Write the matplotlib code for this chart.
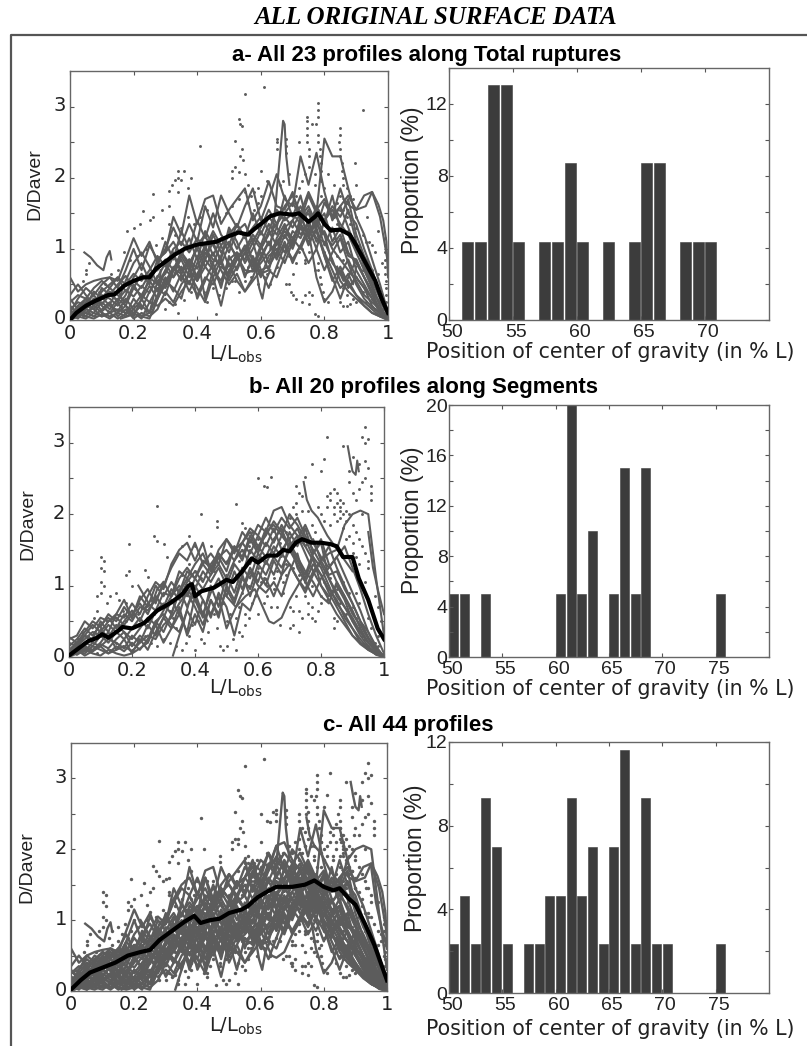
"""Surface slip profiles and centre-of-gravity histograms, three panels."""
import numpy as np
import matplotlib

matplotlib.use("Agg")
import matplotlib.pyplot as plt  # noqa: E402
from matplotlib.lines import Line2D  # noqa: E402
from matplotlib.transforms import ScaledTranslation  # noqa: E402

W, H = 807, 1046
GREY = "#5c5c5c"
SANS = "Liberation Sans"
WIDE = "DejaVu Sans"

plt.rcParams["mathtext.fontset"] = "custom"
plt.rcParams["mathtext.rm"] = WIDE
plt.rcParams["mathtext.default"] = "regular"

# common L/Lobs stations for the whole-length profiles (0 to 1, every 0.025)
L = [0, .025, .05, .075, .1, .125, .15, .175, .2, .225, .25, .275, .3, .325, .35, .375, .4, .425, .45, .475,
     .5, .525, .55, .575, .6, .625, .65, .675, .7, .725, .75, .775, .8, .825, .85, .875, .9, .925, .95, .975, 1]

a01 = [.6, .4, .5, .55, .58, .6, .55, .85, 1.15, .9, 1.1, .8, 1.0, 1.3, 1.05, 1.35, 1.1, 1.6, 1.3, 1.75, 1.5, 1.3, 1.6, 1.85, 1.4, 1.7, 2.05, 1.7, 1.6, 2.3, 1.9, 2.35, 1.8, 1.4, 1.6, 1.75, 1.55, 1.75, 1.8, 1.45, .8]
a02 = [.1, .3, .45, .35, .5, .6, .45, .7, 1.0, .7, 1.05, .85, .95, 1.45, 1.2, 1.75, 1.35, 1.7, 1.75, 1.35, 1.55, 1.7, 1.85, 1.4, 1.6, 1.95, 1.6, 1.55, 1.8, 1.4, 1.75, 1.5, 2.55, 2.3, 2.3, 1.85, 1.45, 1.2, .85, .5, .1]
a03 = [0, .2, .3, .25, .35, .3, .2, .35, .6, .8, .55, .75, 1.1, .85, 1.25, 1.0, 1.4, 1.15, 1.5, 1.2, 1.05, 1.35, 1.15, 1.5, 1.2, 1.45, 1.3, 1.75, 1.45, 1.75, 1.3, 1.6, 1.35, 1.75, 1.25, 1.55, 1.1, .75, .5, .2, 0]
a04 = [0, .05, .15, .1, .25, .15, .3, .2, .45, .35, .55, .4, .7, .6, .9, .7, 1.05, .85, 1.2, .95, 1.1, .85, 1.0, 1.2, 1.05, 1.35, 1.2, 1.45, 1.3, 1.5, 1.15, 1.4, 1.05, 1.3, .95, 1.1, .7, .5, .3, .1, 0]
a05 = [.05, .1, .05, .2, .1, .05, .1, .05, .1, .2, .1, .55, .65, .9, .7, .85, .6, .95, .8, 1.05, .75, .9, .65, .7, 1.0, 1.25, 1.05, 1.3, 1.15, 1.35, 1.05, 1.3, .9, .55, .75, .5, .35, .25, .15, .05, 0]
a06 = [0, .1, .2, .15, .05, .1, .02, .08, .15, .05, .02, .3, .5, .75, .55, .8, .3, .55, .8, .45, .9, .7, .95, .7, .85, 1.1, .9, 1.2, 1.0, 1.3, 1.1, 1.25, .95, .7, .45, .55, .35, .2, .1, .05, .02]
a07 = [.15, .25, .2, .4, .3, .45, .35, .25, .5, .3, .6, .5, .45, .7, .85, .6, .9, .3, .7, .55, .85, .95, .6, .9, .65, .7, 1.1, .95, 1.25, 1.15, 1.4, 1.1, 1.25, 1.0, .85, .7, .55, .35, .25, .15, .05]
a08 = [.05, .2, .1, .05, .15, .25, .05, .15, .02, .1, .05, .15, .4, .25, .5, .65, .45, .25, .6, .2, .7, .85, 1.0, .75, 1.05, .8, 1.15, 1.35, 1.05, 1.45, 1.2, 1.35, 1.5, 1.1, 1.3, .95, .8, .6, .35, .15, .02]
a09 = [.25, .35, .3, .45, .55, .45, .6, .5, .65, .55, .7, .9, .75, 1.0, 1.1, .95, 1.15, 1.0, 1.25, 1.05, 1.2, 1.35, 1.15, 1.3, 1.45, 1.25, 1.55, 1.4, 1.5, 1.35, 1.55, 1.3, 1.65, 1.45, 1.85, 1.5, 1.35, 1.0, .7, .35, .05]
a10 = [0, .08, .18, .3, .22, .35, .28, .42, .33, .48, .38, .62, .55, .72, .65, .85, .72, 1.0, .85, .78, 1.05, .9, .7, .68, .8, .95, 1.1, 1.25, 1.1, 1.35, 1.2, 1.45, 1.2, 1.05, 1.2, .9, .85, .6, .4, .25, .08]
a11 = [.02, .05, .02, .1, .05, .1, .15, .1, .2, .35, .25, .2, .3, .2, .4, .55, .35, .6, .5, .75, .65, .95, .85, 1.1, .7, .75, .95, 1.3, 1.4, 1.2, 1.35, 1.15, 1.1, .85, .55, .4, .3, .2, .1, .05, 0]
a12 = [.3, .15, .3, .2, .4, .5, .6, .4, .55, .45, .65, .7, .85, .7, .95, .8, 1.0, .75, .6, .85, .55, .75, .95, 1.15, 1.0, 1.2, 1.35, 1.5, 1.65, 1.45, 1.6, 1.35, 1.2, .8, .65, .85, .6, .45, .3, .15, .03]
a13 = [.1, .15, .05, .02, .08, .02, .1, .2, .1, .02, .25, .45, .35, .7, .95, .75, 1.05, 1.2, .9, 1.15, .95, 1.25, 1.35, 1.1, 1.3, 1.55, 1.35, 1.6, 1.75, 1.5, 1.8, 1.55, 1.7, 1.45, 1.6, 1.3, 1.0, .8, .55, .3, .1]
a14 = [.02, .12, .25, .15, .3, .4, .25, .08, .3, .15, .4, .6, .8, .6, .75, .5, .8, 1.05, .7, .9, 1.25, 1.0, 1.2, .8, .95, .7, .6, .9, 1.15, 1.0, 1.25, .6, .25, .4, .7, .45, .6, .45, .2, .08, 0]
a15 = [.2, .1, .25, .35, .2, .1, .25, .55, .8, .95, .75, .5, .7, .95, .65, .4, .65, .85, 1.1, .8, .6, .85, 1.05, .85, .6, .9, 1.0, .8, 1.1, 1.4, 1.5, 1.25, .9, .6, .3, .6, .85, .6, .4, .12, .03]
a16 = [.02, .05, .1, .2, .32, .2, .12, .3, .15, .28, .48, .3, .55, .45, .3, .7, .55, .85, .7, .5, .8, .55, .4, .55, .7, .45, .75, 1.05, .85, 1.05, 1.3, 1.0, 1.4, 1.55, 1.35, 1.2, .95, .7, .45, .2, 0]
a17 = [.35, .5, .35, .2, .45, .35, .5, .62, .45, .65, .5, .85, .95, 1.1, .9, 1.15, .85, 1.25, 1.05, .85, 1.3, 1.1, .8, 1.0, 1.25, 1.05, 1.3, 1.15, 1.4, 1.6, 1.35, 1.55, 1.4, 1.6, 1.45, 1.7, 1.2, .9, .7, .35, .1]
a18 = [.08, .02, .15, .3, .12, .22, .42, .2, .05, .3, .1, .35, .6, .4, .65, .85, .55, .75, .95, .7, .5, .65, .4, .6, .9, 1.1, .85, 1.1, .8, 1.05, .8, 1.0, .7, .95, 1.15, .8, .5, .3, .18, .1, .02]

b01 = [.25, .3, .5, .4, .55, .5, .6, .55, .75, .6, .85, 1.05, .95, 1.3, 1.5, 1.6, 1.35, 1.6, 1.2, 1.5, 1.65, 1.45, 1.75, 1.6, 1.85, 1.75, 2.05, 2.1, 1.85, 1.7, 1.55, 1.35, 1.15, .9, .7, .5, .3, .2, .12, .05, 0]
b02 = [.15, .25, .4, .3, .45, .55, .4, .6, .5, .7, .65, .8, 1.0, 1.25, 1.45, 1.35, 1.6, 1.3, 1.45, 1.3, 1.65, 1.5, 1.6, 1.8, 1.7, 1.95, 1.75, 1.95, 1.8, 1.95, 1.7, 1.5, 1.3, 1.1, .9, .7, .55, .35, .2, .1, 0]
b03 = [.05, .15, .25, .35, .3, .45, .35, .5, .65, .5, .75, .65, .9, .85, 1.1, 1.25, 1.1, 1.3, 1.15, 1.4, 1.2, 1.55, 1.4, 1.7, 1.5, 1.8, 1.6, 1.85, 1.65, 1.8, 1.55, 1.65, 1.35, 1.15, 1.2, .95, .75, .5, .35, .15, 0]
b04 = [0, .1, .2, .15, .3, .2, .35, .25, .4, .55, .4, .65, .75, .6, .9, 1.1, .95, 1.2, 1.05, 1.25, 1.0, 1.3, 1.15, 1.5, 1.35, 1.6, 1.45, 1.7, 1.55, 1.35, 1.15, 1.45, 1.6, 1.1, .85, .7, .5, .35, .2, .08, 0]
b05 = [.02, .08, .05, .15, .1, .05, .1, .15, .08, .2, .3, .25, .45, .55, .75, .9, .7, .45, .8, .6, .95, .75, 1.1, .95, 1.3, 1.15, 1.4, 1.25, 1.5, 1.3, 1.1, 1.4, 1.0, .85, 1.0, .8, .5, .3, .15, .05, 0]
b06 = [0, .05, .15, .1, .2, .35, .1, .25, .05, .25, .1, .35, .55, .4, .7, .3, .6, .35, .8, .55, 1.0, .8, 1.15, .85, 1.2, 1.0, 1.35, 1.15, 1.6, 1.4, 1.2, 1.05, .85, .75, 1.05, .85, .6, .45, .25, .1, .02]
b07 = [.1, .2, .3, .45, .35, .5, .55, .45, .6, .75, .6, .85, .7, .95, .8, 1.05, 1.2, 1.05, 1.3, 1.45, 1.3, 1.55, 1.35, 1.65, 1.45, 1.75, 1.85, 1.7, 2.0, 1.85, 1.65, 1.4, 1.25, 1.0, .75, .6, .4, .25, .12, .03, 0]
b08 = [.02, .12, .08, .2, .15, .25, .2, .12, .3, .2, .45, .3, .55, .8, .6, .95, .8, .55, 1.0, .7, 1.15, .9, 1.25, 1.1, 1.45, 1.3, 1.55, 1.4, 1.75, 1.55, 1.8, 1.45, 1.65, 1.3, 1.05, .85, .65, .4, .2, .08, 0]
b09 = [.2, .15, .3, .25, .5, .35, .6, .8, .55, .85, .7, 1.0, .85, 1.05, .9, 1.2, 1.1, 1.35, 1.25, 1.45, 1.3, 1.5, 1.6, 1.45, 1.7, 1.55, 1.8, 1.5, 1.65, 1.25, 1.05, 1.3, 1.15, .95, .8, .55, .4, .2, .1, .04, 0]
b10 = [.05, .1, .02, .08, .15, .05, .15, .08, .2, .1, .25, .5, .35, .6, .95, .7, 1.0, .8, .55, .9, .7, .3, .75, .65, .95, 1.1, .85, 1.15, 1.3, 1.1, .95, 1.2, 1.35, 1.45, 1.5, 1.85, 2.0, 2.05, 2.0, 1.1, .3]
b11 = [.28, .2, .35, .5, .42, .6, .5, .7, .55, .8, .95, .75, 1.05, .85, 1.2, 1.1, 1.3, 1.45, 1.2, 1.4, 1.5, 1.35, 1.6, 1.75, 1.55, 1.7, 1.9, 1.75, 1.55, 1.7, 1.45, 1.2, 1.0, .8, .6, .45, .3, .18, .1, .04, 0]
b12 = [.1, .03, .1, .05, .02, .1, .05, .02, .05, .12, .2, .45, .2, .4, .6, .35, .85, .6, .9, 1.1, .85, 1.2, .95, 1.25, 1.05, 1.35, 1.15, 1.45, 1.3, 1.1, .9, 1.15, 1.35, 1.55, 1.25, 1.0, .75, .5, .28, .1, 0]
b13 = [.08, .18, .3, .2, .38, .28, .45, .35, .25, .4, .55, .45, .65, .85, 1.0, .85, 1.1, .95, 1.15, 1.3, 1.1, 1.35, 1.5, 1.3, 1.55, 1.4, 1.65, 1.8, 1.5, 1.65, 1.85, 1.6, 1.4, 1.25, 1.4, 1.15, .9, .65, .35, .12, 0]
b14 = [.02, .05, .12, .08, .18, .12, .25, .35, .15, .3, .2, .5, .6, .45, .35, .65, .45, .8, .6, .85, .4, .65, .9, 1.2, 1.0, .9, 1.05, .85, 1.2, 1.45, 1.05, .85, 1.1, 1.25, 1.4, 1.55, 1.25, .95, .6, .3, .05]

# short stretches that stand out from the bundle
a_seg1_x = [.045, .065, .085, .105, .115, .125, .13]
a_seg1_y = [.95, .88, .77, .7, .88, .97, .85]
a_seg2_x = [.63, .645, .66, .67, .675, .68, .69]
a_seg2_y = [1.0, 1.55, 2.3, 2.8, 2.75, 2.3, 1.9]
a_seg3_x = [.86, .88, .9, .93, .95, .97, .985, .995, 1.0]
a_seg3_y = [1.7, 1.6, 1.55, 1.6, 1.8, 1.62, 1.4, 1.1, .6]
a_seg4_x = [.58, .595, .605, .615, .63]
a_seg4_y = [.85, .45, .3, .55, .7]
a_seg5_x = [.84, .86, .875, .89, .9]
a_seg5_y = [.75, .55, .65, .5, .75]
a_seg6_x = [.16, .18, .2, .23, .26, .28, .285]
a_seg6_y = [.02, .05, .08, .06, .12, .35, .7]
b_seg1_x = [.885, .893, .9, .91, .915, .92]
b_seg1_y = [2.95, 2.75, 2.6, 2.55, 2.75, 2.6]
b_seg2_x = [.33, .35, .365, .38, .4, .42, .44]
b_seg2_y = [.02, .3, .5, .75, .9, .65, .5]
b_seg3_x = [.5, .53, .56, .59, .62, .635, .65, .675, .7, .72, .74]
b_seg3_y = [.85, .7, .85, .95, .65, .5, .47, .55, .8, .95, 1.1]
b_seg4_x = [.745, .755, .77, .79, .82, .86, .9]
b_seg4_y = [2.45, 2.2, 2.05, 1.95, 1.7, 1.45, 1.2]
b_seg5_x = [.95, .965, .98, 1.0]
b_seg5_y = [1.75, 1.25, .95, .6]
b_seg6_x = [.22, .24, .26, .28, .3]
b_seg6_y = [1.0, .85, .7, .95, 1.05]

# single samples
dots_a = [(.61, 3.28), (.55, 3.17), (.92, 2.95), (.53, 2.83), (.54, 2.72), (.535, 2.75), (.41, 2.44), (.52, 2.52), (.54, 2.4), (.535, 2.3),
          (.545, 2.25), (.51, 2.1), (.52, 2.15), (.53, 2.08), (.51, 2.0), (.55, 2.05), (.56, 1.9), (.34, 2.1), (.36, 2.1), (.34, 2.0),
          (.33, 1.97), (.35, 1.97), (.38, 2.0), (.37, 1.85), (.32, 1.9), (.31, 1.82), (.34, 1.8), (.26, 1.77), (.23, 1.53), (.31, 1.6),
          (.29, 1.55), (.26, 1.45), (.25, 1.4), (.22, 1.35), (.18, 1.25), (.2, 1.3), (.06, .8), (.05, .7), (.05, .65), (.04, .55),
          (.745, 2.85), (.745, 2.8), (.745, 2.7), (.745, 2.6), (.745, 2.5), (.75, 2.4), (.75, 2.3), (.78, 3.05), (.78, 2.95), (.78, 2.85),
          (.775, 2.75), (.78, 2.6), (.78, 2.5), (.785, 2.4), (.785, 2.3), (.79, 2.2), (.79, 2.1), (.76, 2.75), (.85, 2.7), (.85, 2.6),
          (.845, 2.5), (.85, 2.4), (.85, 2.3), (.855, 2.2), (.855, 2.1), (.86, 2.0), (.65, 2.55), (.65, 2.5), (.65, 2.4), (.68, 2.55),
          (.68, 2.45), (.68, 2.35), (.72, 2.5), (.895, 2.2), (.6, 2.1), (.59, 1.85), (.58, 1.8), (.62, 1.95), (.77, 1.9), (.81, 2.05),
          (.68, .5), (.69, .5), (.695, .4), (.7, .35), (.71, .3), (.74, .35), (.75, .4), (.76, .35), (.73, .25), (.75, .22),
          (.77, .08), (.78, .05), (.7, .65), (.72, .95), (.74, .85), (.74, .8), (.6, .65), (.61, .6), (.62, .65), (.85, .25),
          (.86, .2), (.87, .2), (.88, .22), (.89, .3), (.9, .25), (.87, .35), (.92, .4), (.99, 1.15), (.99, 1.05), (.99, .95),
          (.99, .85), (.99, .75), (.99, .65), (.995, .55), (.995, .45), (.995, .35), (.995, .25), (.78, .8), (.78, .7), (.785, .6),
          (.79, .5), (.795, .4), (.8, .3), (.81, .25), (.33, .23), (.14, .4), (.19, .1), (.2, .2), (.43, .25), (.46, .08),
          (.5, .7), (.52, .55), (.45, .45), (.48, .6), (.35, .6), (.38, .4), (.41, .7), (.25, .25), (.28, .4), (.56, .75),
          (.93, .25), (.95, .3), (.96, .15), (.94, 1.1), (.96, .95), (.83, 1.9), (.87, 1.85), (.89, 1.7), (.9, 1.9), (.66, 1.9)]
dots_a_more = [(.87, 1.65), (.86, 1.55), (.87, 1.45), (.88, 1.35), (.875, 1.25), (.88, 1.15), (.86, 1.05), (.87, .95), (.86, .85), (.85, 1.75),
               (.84, 1.65), (.85, 1.55), (.83, 1.45), (.84, 1.35), (.82, 1.25), (.83, 1.15), (.8, 1.85), (.79, 1.75), (.8, 1.65), (.78, 1.55),
               (.79, 1.95), (.77, 2.05), (.75, 2.15), (.74, 2.05), (.73, 1.95), (.72, 1.85), (.71, 1.75), (.7, 1.65), (.69, 2.05), (.67, 1.95),
               (.57, 1.75), (.56, 1.65), (.58, 1.55), (.59, 1.65), (.6, 1.75), (.55, 1.8), (.53, 1.7), (.51, 1.6), (.49, 1.5), (.47, 1.45),
               (.43, 1.55), (.41, 1.45), (.39, 1.35), (.37, 1.45), (.35, 1.3), (.33, 1.2), (.31, 1.35), (.29, 1.15), (.27, 1.05), (.24, 1.0),
               (.21, .9), (.19, .85), (.17, .95), (.15, .7), (.13, .65), (.11, .5), (.09, .4), (.07, .35), (.05, .3), (.03, .15),
               (.02, .05), (.04, .05), (.06, .1), (.08, .05), (.1, .1), (.12, .12), (.14, .15), (.16, .2), (.18, .15), (.22, .22),
               (.24, .12), (.3, .15), (.31, .25), (.34, .1), (.36, .28), (.4, .35), (.42, .4), (.44, .5), (.47, .35), (.49, .45),
               (.51, .55), (.53, .4), (.55, .55), (.57, .6), (.59, .5), (.63, .5), (.65, .75), (.67, .85), (.69, .9), (.71, .8),
               (.73, 1.0), (.75, .95), (.77, .7), (.8, .95), (.82, .85), (.84, .9), (.86, .45), (.88, .5), (.9, .6), (.92, .7),
               (.94, .6), (.96, .5), (.97, .4), (.98, .25), (.985, .15), (.98, .8), (.97, .65), (.95, .7), (.93, .85), (.91, 1.05),
               (.89, 1.1), (.9, 1.3), (.92, 1.2), (.93, 1.1), (.95, 1.05), (.97, 1.25), (.935, 1.45), (.9, 1.45), (.88, 1.75), (.86, 1.9)]
dots_b = [(.94, 3.22), (.95, 3.05), (.93, 3.08), (.94, 3.0), (.82, 3.08), (.87, 2.95), (.81, 2.77), (.95, 2.65), (.92, 2.7), (.77, 2.7),
          (.8, 2.6), (.75, 2.52), (.6, 2.5), (.64, 2.52), (.62, 2.4), (.63, 2.38), (.28, 2.12), (.53, 2.14), (.42, 2.0), (.47, 1.9),
          (.47, 1.82), (.55, 1.87), (.56, 1.8), (.27, 1.7), (.28, 1.63), (.3, 1.58), (.19, 1.58), (.31, 1.4), (.1, 1.4), (.11, 1.35),
          (.1, 1.25), (.11, 1.2), (.1, 1.05), (.11, 1.0), (.18, 1.15), (.19, 1.2), (.24, 1.22), (.25, 1.12), (.2, 1.0), (.15, .9),
          (.09, .85), (.1, .9), (.13, .85), (.12, .75), (.16, .8), (.18, .75), (.17, .65), (.09, .65), (.08, .55), (.38, 1.7),
          (.36, 1.55), (.4, 1.55), (.45, 1.55), (.72, 2.4), (.73, 2.3), (.74, 2.25), (.72, 2.15), (.71, 2.1), (.72, 2.0), (.82, 2.25),
          (.83, 2.2), (.84, 2.1), (.85, 2.3), (.86, 2.2), (.86, 2.1), (.84, 2.0), (.85, 1.9), (.83, 1.85), (.86, 1.95), (.87, 1.8),
          (.87, 2.0), (.88, 1.9), (.89, 1.7), (.9, 2.3), (.91, 2.2), (.92, 2.35), (.93, 2.45), (.94, 2.5), (.96, 2.3), (.96, 2.2),
          (.93, 2.0), (.9, 2.8), (.89, 2.6), (.94, 2.75), (.96, 2.4), (.89, 2.45), (.9, 1.6), (.88, 1.65), (.6, 1.25), (.62, 1.1),
          (.61, 1.05), (.63, 1.0), (.65, .95), (.63, .85), (.66, 1.2), (.67, 1.1), (.68, 1.05), (.66, .7), (.68, .9), (.69, 1.15),
          (.58, .75), (.57, 1.0), (.7, .7), (.71, .65), (.72, .85), (.73, .65), (.74, .55), (.77, .7), (.77, .55), (.79, .65),
          (.76, .75), (.75, .85), (.77, 1.0), (.8, .75), (.82, .8), (.84, .55), (.84, .4), (.85, .5), (.88, .6), (.7, .4),
          (.71, .45), (.73, .35), (.67, .45), (.56, .6), (.57, .55), (.56, .45), (.55, .3), (.54, .35), (.53, .55), (.52, .25),
          (.5, .15), (.49, .1), (.48, .15), (.53, .1), (.42, .25), (.43, .2), (.4, .1), (.37, .2), (.36, .1), (.38, .3),
          (.34, .4), (.32, .65), (.33, .55), (.27, .6), (.25, .5), (.28, .35), (.98, .15), (.97, .1), (.97, .2), (.96, .4),
          (.99, .5), (.98, .7), (.97, .85), (.98, .3), (.95, .55), (.93, .45), (.92, .75), (.91, .9), (.94, 1.05), (.95, 1.25)]
dots_b_more = [(.79, 2.1), (.8, 2.0), (.81, 1.9), (.82, 2.1), (.83, 2.3), (.84, 2.35), (.85, 2.15), (.86, 2.05), (.87, 2.15), (.88, 2.05),
               (.89, 2.0), (.9, 1.85), (.91, 1.75), (.92, 1.65), (.93, 1.55), (.94, 1.45), (.95, 1.35), (.9, 1.45), (.91, 1.4), (.92, 1.3),
               (.76, 2.05), (.74, 2.05), (.77, 1.85), (.78, 1.75), (.7, 1.95), (.69, 1.75), (.67, 1.6), (.65, 1.65), (.63, 1.75), (.61, 1.8),
               (.6, 1.65), (.58, 1.75), (.57, 1.55), (.55, 1.5), (.54, 1.35), (.52, 1.3), (.5, 1.35), (.48, 1.4), (.46, 1.2), (.44, 1.3),
               (.42, 1.1), (.4, 1.2), (.38, 1.3), (.36, 1.15), (.34, 1.05), (.32, .9), (.3, 1.0), (.28, .85), (.26, .8), (.24, .7),
               (.22, .6), (.2, .55), (.18, .5), (.16, .45), (.14, .55), (.12, .5), (.1, .4), (.08, .35), (.06, .3), (.04, .35),
               (.02, .2), (.03, .25), (.05, .15), (.07, .1), (.09, .05), (.13, .1), (.15, .2), (.17, .15), (.2, .1), (.22, .25),
               (.24, .3), (.26, .2), (.28, .15), (.3, .25), (.32, .2), (.34, .15), (.39, .45), (.41, .5), (.44, .35), (.46, .6),
               (.47, .4), (.49, .75), (.5, .5), (.51, .6), (.54, .7), (.55, .9), (.59, .85), (.6, .6), (.62, .75), (.64, .7),
               (.65, 1.1), (.69, 1.3), (.71, 1.25), (.73, 1.15), (.75, 1.05), (.76, .6), (.78, .5), (.8, .85), (.81, 1.05), (.83, 1.1),
               (.85, .95), (.86, .75), (.87, 1.05), (.89, .9), (.9, .7), (.91, .55), (.92, .4), (.93, .3), (.94, .25), (.95, .15)]

mean_a_x = [0, .02, .05, .08, .12, .14, .17, .2, .23, .25, .27, .3, .33, .36, .4, .43, .46, .5, .53, .56, .58, .6, .63, .66, .7, .72, .75, .77, .78, .8, .82, .85, .88, .9, .93, .96, .98, 1]
mean_a_y = [0, .1, .2, .27, .35, .36, .48, .55, .6, .6, .72, .82, .92, 1.0, 1.06, 1.08, 1.1, 1.18, 1.23, 1.2, 1.28, 1.35, 1.46, 1.5, 1.48, 1.5, 1.38, 1.45, 1.5, 1.35, 1.26, 1.27, 1.2, 1.05, .8, .55, .3, .1]
mean_b_x = [0, .03, .06, .09, .105, .125, .16, .17, .2, .24, .28, .32, .36, .38, .39, .4, .42, .46, .5, .52, .55, .58, .6, .63, .66, .68, .7, .72, .74, .77, .8, .83, .85, .87, .9, .92, .95, .98, 1]
mean_b_y = [.02, .12, .22, .27, .32, .27, .38, .42, .4, .48, .65, .75, .88, 1.0, 1.02, .85, .92, .97, 1.08, 1.05, 1.2, 1.38, 1.32, 1.42, 1.42, 1.5, 1.48, 1.6, 1.65, 1.6, 1.6, 1.58, 1.55, 1.4, 1.4, 1.1, .8, .4, .25]
mean_c_x = [0, .03, .06, .1, .14, .18, .22, .25, .28, .32, .36, .39, .41, .44, .47, .5, .54, .56, .59, .62, .65, .7, .74, .77, .8, .83, .85, .88, .9, .93, .96, .98, 1]
mean_c_y = [.02, .15, .26, .33, .4, .5, .55, .58, .72, .85, .98, 1.06, .96, 1.0, 1.02, 1.1, 1.15, 1.2, 1.32, 1.4, 1.47, 1.47, 1.5, 1.56, 1.47, 1.42, 1.45, 1.3, 1.22, .95, .65, .4, .15]

# histograms: left edge of each 1 % bin and its proportion
hist_a_bins = [51, 52, 53, 54, 55, 57, 58, 59, 60, 62, 64, 65, 66, 68, 69, 70]
hist_a_vals = [4.35, 4.35, 13.05, 13.05, 4.35, 4.35, 4.35, 8.7, 4.35, 4.35, 4.35, 8.7, 8.7, 4.35, 4.35, 4.35]
hist_b_bins = [50, 51, 53, 60, 61, 62, 63, 65, 66, 67, 68, 75]
hist_b_vals = [5, 5, 5, 5, 20, 5, 10, 5, 15, 5, 15, 5]
hist_c_bins = [50, 51, 52, 53, 54, 55, 57, 58, 59, 60, 61, 62, 63, 64, 65, 66, 67, 68, 69, 70, 75]
hist_c_vals = [2.33, 4.65, 2.33, 9.3, 7, 2.33, 2.33, 2.33, 4.65, 4.65, 9.3, 4.65, 7, 2.33, 7, 11.63, 2.33, 9.3, 2.33, 2.33, 2.33]

profiles_a = [a01, a02, a03, a04, a05, a06, a07, a08, a09, a10, a11, a12, a13, a14, a15, a16, a17, a18]
profiles_b = [b01, b02, b03, b04, b05, b06, b07, b08, b09, b10, b11, b12, b13, b14]
segs_a = [(a_seg1_x, a_seg1_y), (a_seg2_x, a_seg2_y), (a_seg3_x, a_seg3_y), (a_seg4_x, a_seg4_y), (a_seg5_x, a_seg5_y), (a_seg6_x, a_seg6_y)]
segs_b = [(b_seg1_x, b_seg1_y), (b_seg2_x, b_seg2_y), (b_seg3_x, b_seg3_y), (b_seg4_x, b_seg4_y), (b_seg5_x, b_seg5_y), (b_seg6_x, b_seg6_y)]
all_dots_a = dots_a + dots_a_more
all_dots_b = dots_b + dots_b_more


def axes_px(fig, x0, x1, top, bottom):
    return fig.add_axes([x0 / W, 1 - bottom / H, (x1 - x0) / W, (bottom - top) / H])


def txt(fig, x, y, s, **kw):
    kw.setdefault("ha", "center")
    kw.setdefault("va", "center")
    fig.text(x / W, 1 - y / H, s, **kw)


def style(ax, family, size, xshift, yshift):
    ax.tick_params(which="both", direction="in", length=3, width=.8, color="#555555", top=True, right=True,
                   labelsize=size, labelcolor="#222222", pad=3)
    # tick labels sit a few pixels off their ticks in the original
    up = ScaledTranslation(0, yshift / 100, ax.figure.dpi_scale_trans)
    right = ScaledTranslation(xshift / 100, 0, ax.figure.dpi_scale_trans)
    for lab in ax.get_yticklabels():
        lab.set_family(family)
        lab.set_transform(lab.get_transform() + up)
    for lab in ax.get_xticklabels():
        lab.set_family(family)
        lab.set_transform(lab.get_transform() + right)
    for sp in ax.spines.values():
        sp.set_linewidth(1.0)
        sp.set_color("#666666")


def draw_profiles(ax, profiles, segs, dots, mean_x, mean_y, lw=1.5, dot=4.5):
    for p in profiles:
        ax.plot(L, p, color=GREY, lw=lw, solid_joinstyle="round")
    for sx, sy in segs:
        ax.plot(sx, sy, color=GREY, lw=lw, solid_joinstyle="round")
    d = np.array(dots)
    ax.scatter(d[:, 0], d[:, 1], s=dot, color=GREY, linewidths=0, zorder=2)
    ax.plot(mean_x, mean_y, color="black", lw=3, zorder=5, solid_joinstyle="round")
    ax.set_xlim(0, 1)
    ax.set_ylim(0, 3.5)
    ax.set_xticks([0, .2, .4, .6, .8, 1])
    ax.set_xticklabels(["0", "0.2", "0.4", "0.6", "0.8", "1"])
    ax.set_yticks([0, .5, 1, 1.5, 2, 2.5, 3])
    ax.set_yticklabels(["0", "", "1", "", "2", "", "3"])
    style(ax, WIDE, 14, 0, 3)


def draw_hist(ax, bins, vals, xmax, ymax, yticks):
    ax.bar(np.array(bins) + .46, vals, width=.86, color="#3c3c3c", edgecolor="#3c3c3c", linewidth=.4)
    ax.set_xlim(50, xmax)
    ax.set_ylim(0, ymax)
    ax.set_xticks(range(50, xmax, 5))
    ax.set_yticks(yticks)
    ax.set_yticklabels([str(t) if t % 4 == 0 else "" for t in yticks])
    style(ax, SANS, 14, 3, 4)
    ax.tick_params(axis="y", pad=1)


fig = plt.figure(figsize=(W / 100, H / 100), dpi=100)

# outer frame, open on the right and at the bottom
fig.add_artist(Line2D([11 / W, 11 / W, 1], [0, 1 - 35 / H, 1 - 35 / H], color="#555555", lw=1.6))

txt(fig, 436, 18, "ALL ORIGINAL SURFACE DATA", family="Liberation Serif", weight="bold", style="italic", fontsize=18)
txt(fig, 427, 56, "a- All 23 profiles along Total ruptures", family=SANS, weight="bold", fontsize=16)
txt(fig, 424, 388, "b- All 20 profiles along Segments", family=SANS, weight="bold", fontsize=16)
txt(fig, 408, 725, "c- All 44 profiles", family=SANS, weight="bold", fontsize=16)

ax = axes_px(fig, 70, 388, 71, 320)
draw_profiles(ax, profiles_a, segs_a, all_dots_a, mean_a_x, mean_a_y)
ax = axes_px(fig, 69, 384, 407, 657)
draw_profiles(ax, profiles_b, segs_b, all_dots_b, mean_b_x, mean_b_y)
ax = axes_px(fig, 71, 387, 743, 991)
draw_profiles(ax, profiles_a + profiles_b, segs_a + segs_b, all_dots_a + all_dots_b, mean_c_x, mean_c_y, lw=1.7, dot=6)

ax = axes_px(fig, 449, 769, 68, 320)
draw_hist(ax, hist_a_bins, hist_a_vals, 75, 14, list(range(0, 14, 2)))
ax = axes_px(fig, 449, 769, 405, 657)
draw_hist(ax, hist_b_bins, hist_b_vals, 80, 20, list(range(0, 21, 2)))
ax = axes_px(fig, 449, 769, 742, 993)
draw_hist(ax, hist_c_bins, hist_c_vals, 80, 12, list(range(0, 13, 2)))

for x, y in [(35, 184), (28, 524), (27, 867)]:
    txt(fig, x, y, "D/Daver", family=SANS, fontsize=14, rotation=90, color="#222222")
for x, y in [(236, 354), (236, 688), (236, 1026)]:
    txt(fig, x, y, "L/L$_{obs}$", family=WIDE, fontsize=14, color="#222222")
for x, y in [(412, 180), (413, 520), (416, 858)]:
    txt(fig, x, y, "Proportion (%)", family=SANS, fontsize=16.5, rotation=90, color="#222222")
for y in [352, 689, 1029]:
    txt(fig, 610, y, "Position of center of gravity (in % L)", family=WIDE, fontsize=14.8, color="#222222")

fig.savefig("out.png", dpi=100)
plt.close(fig)
